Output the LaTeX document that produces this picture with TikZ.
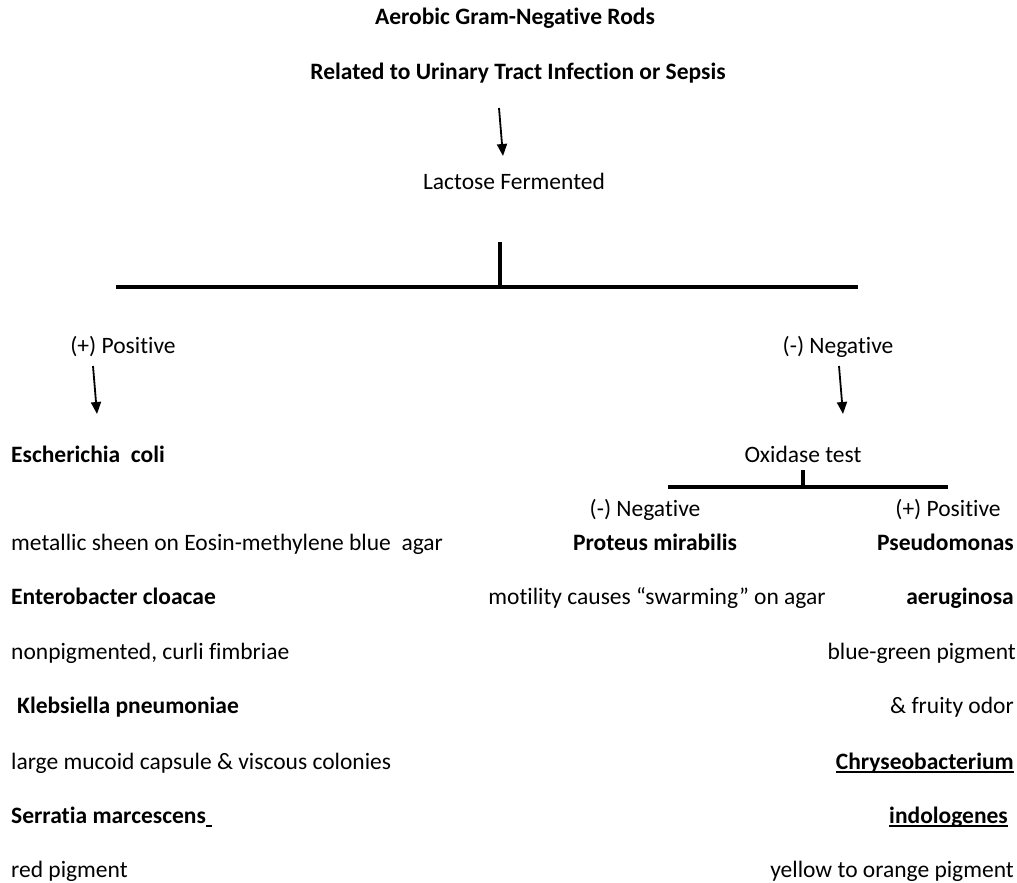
\documentclass[tikz,border=0pt]{standalone}
\usepackage{fontspec}
\setmainfont[Ligatures={NoCommon}]{Carlito}
\newcommand\nl{\kern0pt{}}
\newcommand\myul[1]{\setbox0\hbox{#1}\rlap{\rule[-3.6pt]{\wd0}{1.5pt}}\box0}
\usetikzlibrary{arrows.meta}
\begin{document}
\begin{tikzpicture}[x=1pt,y=-1pt,
  txt/.style={inner sep=0pt,font=\fontsize{23.5}{26}\selectfont,anchor=base},
  bt/.style={txt,font=\fontsize{23.5}{26}\selectfont\bfseries},
  lt/.style={anchor=base west},
  rt/.style={anchor=base east},
  arr/.style={line width=1.8pt,-{Triangle[length=12pt,width=10pt]}},
  bar/.style={line width=3.8pt},
  stem/.style={line width=3.2pt}]
\useasboundingbox (0,0) rectangle (1017,883);
% title
\node[bt] (t1) at (515,25) {Aerobic Gram-Negat\nl ive Rods};
\node[bt] (t2) at (518,80) {Related to Urinary Tract Infect\nl ion or Sepsis};
\coordinate (a1s) at (499,108);
\coordinate (a1e) at (503,156);
\draw[arr] (a1s) -- (a1e);
\node[txt] (lac) at (514,189) {Lactose Fermented};
% main split
\coordinate (st1) at (500,242);
\coordinate (st2) at (500,287);
\coordinate (hl) at (116,287);
\coordinate (hr) at (858,287);
\draw[stem] (st1) -- (st2);
\draw[bar] (hl) -- (hr);
% branches
\node[txt] (pos) at (123,353) {(+) Posit\nl ive};
\node[txt] (neg) at (838,353) {(-) Negat\nl ive};
\coordinate (a2s) at (93,366);
\coordinate (a2e) at (97,414);
\draw[arr] (a2s) -- (a2e);
\coordinate (a3s) at (839,366);
\coordinate (a3e) at (843,414);
\draw[arr] (a3s) -- (a3e);
% left column
\node[bt,lt] (ec) at (11,462) {Escherichia\ \ coli};
\node[txt,lt] (ecd) at (11,550) {metallic sheen on Eosin-methylene blue\ \ agar};
\node[bt,lt] (en) at (11,604) {Enterobacter cloacae};
\node[txt,lt] (end) at (11,659) {nonpigmented, curli f\nl imbriae};
\node[bt,lt] (kl) at (17,713) {Klebsiella pneumoniae};
\node[txt,lt] (kld) at (11,769) {large mucoid capsule \& viscous colonies};
\node[bt,lt] (se) at (11,823) {Serrat\nl ia marcescens\myul{\hspace{6pt}}};
\node[txt,lt] (sed) at (11,877) {red pigment};
% oxidase
\node[txt] (ox) at (803,462) {Oxidase test};
\coordinate (os1) at (803,470);
\coordinate (os2) at (803,487);
\coordinate (ol) at (668,487);
\coordinate (or) at (948,487);
\draw[stem] (os1) -- (os2);
\draw[bar] (ol) -- (or);
\node[txt] (oneg) at (645,516) {(-) Negat\nl ive};
\node[txt] (opos) at (948,516) {(+) Posit\nl ive};
\node[bt] (pr) at (655,550) {Proteus mirabilis};
\node[txt] (prd) at (657,604) {motilit\nl y causes “swarming” on agar};
\node[bt,rt] (ps) at (1014,550) {Pseudomonas};
\node[bt,rt] (ps2) at (1014,604) {aeruginosa};
\node[txt,rt] (psd) at (1016,659) {blue-green pigment};
\node[txt,rt] (psd2) at (1014,713) {\& fruity odor};
\node[bt,rt] (ch) at (1014,769) {\myul{Chryseobacterium}};
\node[bt,rt] (ch2) at (1008,823) {\myul{indologenes}};
\node[txt,rt] (chd) at (1014,877) {yellow to orange pigment};
\end{tikzpicture}
\end{document}
